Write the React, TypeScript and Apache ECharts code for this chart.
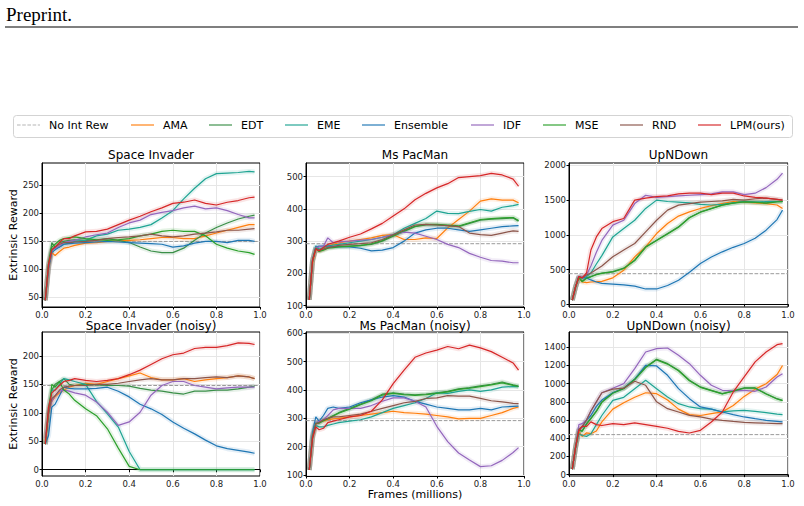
import React, { useEffect, useRef } from "react";
import * as echarts from "echarts";

// ---------- data ----------
const METHODS = ["AMA", "EDT", "EME", "Ensemble", "IDF", "MSE", "RND", "LPM(ours)"];
const REF_NAME = "No Int Rew";
const X = [0.015, 0.03, 0.045, 0.06, 0.08, 0.1, 0.125, 0.15, 0.2, 0.25, 0.3, 0.35, 0.4, 0.45, 0.5, 0.55, 0.6, 0.65, 0.7, 0.75, 0.8, 0.85, 0.9, 0.95, 0.975];

const TITLES = ["Space Invader", "Ms PacMan", "UpNDown", "Space Invader (noisy)", "Ms PacMan (noisy)", "UpNDown (noisy)"];
const REF_LEVELS = [150, 292, 440, 148, 292, 440];
const Y_MIN = [33, 96, -40, -11, 97, -15];
const Y_MAX = [290, 542, 2035, 242, 604, 1568];
const Y_TICKS = [
  [50, 100, 150, 200, 250],
  [100, 200, 300, 400, 500],
  [0, 500, 1000, 1500, 2000],
  [0, 50, 100, 150, 200],
  [100, 200, 300, 400, 500, 600],
  [0, 200, 400, 600, 800, 1000, 1200, 1400],
];

// Space Invader
const SI_AMA = [45, 100, 130, 125, 132, 138, 140, 143, 147, 148, 150, 151, 152, 153, 155, 157, 157, 155, 155, 160, 165, 170, 175, 180, 180];
const SI_EDT = [45, 110, 148, 140, 148, 150, 152, 153, 152, 153, 155, 152, 148, 140, 133, 130, 130, 138, 152, 165, 175, 183, 190, 195, 197];
const SI_EME = [45, 105, 135, 138, 140, 145, 147, 150, 152, 160, 163, 170, 172, 175, 180, 192, 205, 226, 245, 262, 271, 272, 273, 275, 274];
const SI_ENS = [45, 100, 130, 135, 140, 145, 146, 147, 148, 149, 150, 149, 148, 147, 146, 145, 140, 142, 147, 150, 150, 148, 152, 152, 150];
const SI_IDF = [45, 105, 135, 138, 142, 148, 150, 152, 158, 162, 165, 175, 183, 188, 198, 202, 205, 210, 213, 208, 210, 205, 198, 192, 192];
const SI_MSE = [45, 110, 140, 145, 152, 155, 157, 158, 155, 153, 152, 153, 155, 160, 163, 168, 170, 168, 168, 160, 145, 138, 133, 130, 127];
const SI_RND = [45, 105, 135, 140, 145, 148, 148, 149, 150, 152, 155, 157, 158, 160, 163, 160, 158, 160, 163, 165, 167, 170, 170, 172, 173];
const SI_LPM = [45, 110, 135, 140, 148, 155, 155, 160, 167, 168, 172, 180, 188, 195, 203, 210, 218, 220, 224, 218, 215, 220, 223, 228, 229];

// Ms PacMan
const MP_AMA = [118, 230, 275, 270, 275, 285, 290, 295, 300, 305, 310, 318, 320, 305, 305, 310, 308, 341, 367, 393, 424, 431, 427, 427, 419];
const MP_EDT = [118, 240, 280, 270, 275, 280, 282, 283, 285, 287, 290, 300, 315, 330, 345, 350, 350, 348, 345, 355, 365, 368, 370, 372, 362];
const MP_EME = [118, 240, 285, 275, 280, 285, 288, 290, 295, 300, 305, 312, 320, 340, 355, 370, 393, 386, 385, 392, 398, 393, 405, 410, 414];
const MP_ENS = [118, 240, 280, 285, 285, 285, 284, 283, 282, 278, 270, 272, 280, 300, 325, 335, 340, 340, 335, 330, 335, 340, 345, 347, 348];
const MP_IDF = [118, 240, 280, 282, 285, 310, 295, 298, 300, 303, 305, 312, 320, 328, 325, 315, 305, 290, 280, 262, 250, 240, 238, 233, 233];
const MP_MSE = [118, 240, 278, 268, 272, 278, 280, 282, 284, 286, 292, 302, 318, 332, 346, 352, 352, 350, 347, 357, 367, 370, 372, 373, 364];
const MP_RND = [118, 240, 278, 272, 275, 280, 283, 287, 290, 292, 295, 305, 320, 335, 350, 352, 350, 348, 345, 325, 320, 318, 325, 332, 330];
const MP_LPM = [118, 240, 275, 270, 280, 290, 295, 300, 312, 322, 338, 355, 378, 400, 428, 448, 465, 478, 497, 500, 503, 510, 505, 492, 470];

// UpNDown
const UD_AMA = [60, 250, 380, 320, 310, 320, 325, 330, 380, 490, 683, 827, 1019, 1163, 1270, 1330, 1380, 1420, 1450, 1480, 1470, 1460, 1450, 1430, 1380];
const UD_EDT = [60, 250, 390, 330, 380, 400, 430, 450, 470, 520, 635, 827, 923, 1019, 1115, 1250, 1330, 1380, 1430, 1460, 1480, 1470, 1460, 1480, 1480];
const UD_EME = [60, 250, 400, 380, 400, 450, 580, 700, 970, 1090, 1210, 1380, 1500, 1480, 1470, 1460, 1440, 1430, 1440, 1460, 1480, 1470, 1480, 1480, 1480];
const UD_ENS = [60, 250, 400, 380, 380, 350, 320, 300, 290, 280, 260, 220, 220, 270, 346, 460, 587, 680, 755, 820, 875, 950, 1067, 1220, 1356];
const UD_IDF = [60, 250, 400, 390, 420, 550, 750, 920, 1140, 1210, 1450, 1570, 1540, 1550, 1560, 1570, 1580, 1590, 1620, 1620, 1580, 1600, 1680, 1800, 1890];
const UD_MSE = [60, 250, 385, 325, 375, 395, 425, 445, 465, 515, 630, 820, 918, 1012, 1110, 1245, 1325, 1378, 1428, 1458, 1475, 1468, 1458, 1476, 1478];
const UD_RND = [60, 250, 400, 380, 420, 450, 500, 550, 683, 780, 875, 1043, 1210, 1356, 1428, 1450, 1470, 1480, 1490, 1510, 1500, 1520, 1530, 1510, 1500];
const UD_LPM = [60, 250, 400, 380, 450, 780, 970, 1090, 1190, 1235, 1500, 1530, 1550, 1560, 1590, 1600, 1600, 1580, 1600, 1600, 1560, 1540, 1530, 1510, 1500];

// Space Invader (noisy)
const SIN_AMA = [50, 100, 120, 128, 135, 140, 145, 148, 152, 150, 155, 160, 165, 170, 162, 158, 158, 160, 155, 158, 160, 162, 165, 163, 160];
const SIN_EDT = [45, 100, 140, 150, 155, 160, 150, 148, 150, 149, 148, 148, 147, 143, 140, 138, 135, 133, 138, 138, 140, 140, 142, 145, 147];
const SIN_EME = [45, 110, 140, 140, 150, 160, 158, 155, 150, 120, 98, 75, 32, 0, 0, 0, 0, 0, 0, 0, 0, 0, 0, 0, 0];
const SIN_ENS = [45, 60, 110, 115, 130, 145, 143, 142, 142, 143, 145, 138, 128, 115, 107, 97, 84, 73, 63, 52, 42, 37, 34, 31, 29];
const SIN_IDF = [55, 100, 120, 130, 138, 140, 138, 135, 131, 119, 101, 78, 84, 101, 131, 148, 155, 155, 148, 145, 142, 144, 145, 145, 145];
const SIN_MSE = [45, 100, 150, 145, 155, 140, 133, 122, 107, 95, 72, 38, 6, 0, 0, 0, 0, 0, 0, 0, 0, 0, 0, 0, 0];
const SIN_RND = [45, 100, 125, 130, 140, 145, 147, 148, 148, 150, 150, 152, 155, 158, 160, 158, 158, 160, 160, 162, 163, 162, 165, 163, 160];
const SIN_LPM = [45, 110, 135, 140, 148, 155, 157, 160, 157, 155, 157, 160, 167, 175, 185, 195, 202, 205, 213, 215, 215, 218, 223, 222, 220];

// Ms PacMan (noisy)
const MPN_AMA = [118, 230, 280, 290, 290, 295, 298, 300, 305, 310, 315, 320, 325, 320, 318, 315, 310, 305, 298, 300, 300, 310, 320, 335, 340];
const MPN_EDT = [118, 240, 285, 285, 295, 300, 310, 320, 335, 350, 365, 385, 390, 385, 383, 385, 390, 395, 404, 408, 414, 420, 428, 418, 414];
const MPN_EME = [118, 230, 275, 270, 270, 275, 280, 285, 290, 295, 305, 320, 335, 345, 355, 370, 390, 388, 395, 400, 395, 400, 410, 412, 412];
const MPN_ENS = [118, 250, 305, 290, 310, 335, 340, 335, 340, 355, 365, 375, 380, 375, 360, 350, 340, 335, 330, 330, 335, 330, 340, 342, 343];
const MPN_IDF = [118, 240, 285, 290, 295, 310, 330, 335, 335, 335, 345, 360, 372, 372, 360, 340, 272, 218, 178, 153, 130, 133, 152, 180, 197];
const MPN_MSE = [118, 238, 282, 283, 292, 298, 308, 318, 332, 348, 362, 382, 388, 383, 381, 383, 388, 393, 402, 406, 412, 418, 425, 416, 412];
const MPN_RND = [118, 235, 280, 285, 295, 300, 305, 305, 310, 315, 325, 335, 345, 355, 360, 370, 372, 380, 378, 378, 370, 362, 358, 353, 352];
const MPN_LPM = [118, 230, 270, 260, 265, 285, 290, 295, 305, 310, 325, 365, 422, 470, 515, 530, 540, 553, 545, 558, 548, 535, 515, 495, 470];

// UpNDown (noisy)
const UDN_AMA = [60, 300, 470, 420, 460, 450, 480, 580, 720, 790, 850, 900, 890, 820, 720, 660, 650, 670, 690, 760, 860, 940, 1000, 1100, 1200];
const UDN_EDT = [60, 300, 500, 480, 560, 620, 700, 800, 900, 950, 1050, 1183, 1268, 1220, 1147, 1037, 964, 927, 890, 920, 953, 953, 890, 835, 817];
const UDN_EME = [60, 300, 450, 430, 420, 450, 550, 650, 817, 850, 945, 1037, 945, 854, 780, 744, 725, 720, 689, 700, 707, 695, 681, 665, 660];
const UDN_ENS = [60, 300, 500, 520, 600, 650, 750, 820, 900, 950, 1050, 1202, 1195, 1092, 945, 835, 744, 720, 689, 660, 634, 615, 597, 585, 579];
const UDN_IDF = [60, 300, 550, 560, 600, 700, 800, 900, 950, 1000, 1165, 1348, 1385, 1392, 1312, 1220, 1092, 982, 927, 920, 927, 916, 964, 1074, 1110];
const UDN_MSE = [60, 300, 495, 475, 555, 615, 695, 795, 895, 945, 1045, 1178, 1262, 1215, 1142, 1032, 960, 923, 887, 917, 950, 950, 887, 832, 814];
const UDN_RND = [60, 300, 500, 530, 600, 700, 800, 900, 940, 950, 1026, 982, 800, 725, 689, 652, 634, 610, 597, 585, 575, 570, 565, 560, 560];
const UDN_LPM = [60, 300, 480, 530, 530, 580, 550, 540, 560, 550, 570, 550, 530, 510, 476, 458, 487, 579, 689, 909, 1074, 1239, 1348, 1429, 1440];

const PANEL_SERIES = [
  [SI_AMA, SI_EDT, SI_EME, SI_ENS, SI_IDF, SI_MSE, SI_RND, SI_LPM],
  [MP_AMA, MP_EDT, MP_EME, MP_ENS, MP_IDF, MP_MSE, MP_RND, MP_LPM],
  [UD_AMA, UD_EDT, UD_EME, UD_ENS, UD_IDF, UD_MSE, UD_RND, UD_LPM],
  [SIN_AMA, SIN_EDT, SIN_EME, SIN_ENS, SIN_IDF, SIN_MSE, SIN_RND, SIN_LPM],
  [MPN_AMA, MPN_EDT, MPN_EME, MPN_ENS, MPN_IDF, MPN_MSE, MPN_RND, MPN_LPM],
  [UDN_AMA, UDN_EDT, UDN_EME, UDN_ENS, UDN_IDF, UDN_MSE, UDN_RND, UDN_LPM],
];

// ---------- layout & style ----------
const COLORS = ["#ff7f0e", "#3a8f48", "#1fa493", "#1f77b4", "#9467bd", "#2ca02c", "#8c564b", "#d62728"];
const REF_COLOR = "#9a9a9a";
const GRID_POS = [
  { left: 42, top: 163, width: 218, height: 144 },
  { left: 306, top: 163, width: 218, height: 144 },
  { left: 569, top: 163, width: 219, height: 144 },
  { left: 42, top: 332, width: 218, height: 144 },
  { left: 306, top: 332, width: 218, height: 144 },
  { left: 569, top: 332, width: 219, height: 144 },
];
const LEGEND_X = [17, 131, 209, 285, 362, 471, 543, 620, 698];
const FONT = "DejaVu Sans";
const ICON_SOLID = "path://M0,0h23v1.6h-23z";
const ICON_DASH = "path://M0,0h3.6v1.2h-3.6z M5.2,0h3.6v1.2h-3.6z M10.4,0h3.6v1.2h-3.6z M15.6,0h3.6v1.2h-3.6z M20.8,0h2.2v1.2h-2.2z";

export default function App() {
  const ref = useRef<HTMLDivElement>(null);
  useEffect(() => {
    if (!ref.current) return;
    const chart = echarts.init(ref.current, null, { renderer: "svg" });

    const grid = GRID_POS.map((g) => ({
      ...g,
      show: true,
      borderColor: "#000",
      borderWidth: 1,
      backgroundColor: "#fff",
    }));

    const xAxis = GRID_POS.map((_, p) => ({
      type: "value",
      gridIndex: p,
      min: 0,
      max: 1,
      interval: 0.2,
      axisLine: { show: true, lineStyle: { color: "#000", width: 1 } },
      axisTick: { show: true, length: 2.5, lineStyle: { color: "#000" } },
      axisLabel: {
        show: true,
        margin: 3,
        fontSize: 8.5,
        fontFamily: FONT,
        color: "#222",
        formatter: (v: number) => v.toFixed(1),
        showMinLabel: true,
        showMaxLabel: true,
      },
      splitLine: { show: true, lineStyle: { color: "#e6e6e6", width: 1 } },
      name: p === 4 ? "Frames (millions)" : "",
      nameLocation: "middle",
      nameGap: 11,
      nameTextStyle: { fontSize: 11, fontFamily: FONT, color: "#000", verticalAlign: "top" },
    }));

    const yAxis = GRID_POS.map((_, p) => ({
      type: "value",
      gridIndex: p,
      min: Y_MIN[p],
      max: Y_MAX[p],
      axisLine: { show: true, lineStyle: { color: "#000", width: 1 } },
      axisTick: { show: true, length: 2.5, customValues: Y_TICKS[p], lineStyle: { color: "#000" } },
      axisLabel: {
        show: true,
        margin: 3,
        fontSize: 8.5,
        fontFamily: FONT,
        color: "#222",
        customValues: Y_TICKS[p],
        formatter: (v: number) => String(v),
      },
      splitLine: { show: true, lineStyle: { color: "#e6e6e6", width: 1 } },
      name: p === 0 || p === 3 ? "Extrinsic Reward" : "",
      nameLocation: "middle",
      nameGap: 22,
      nameTextStyle: { fontSize: 11, fontFamily: FONT, color: "#000" },
    }));

    const series: any[] = [];
    PANEL_SERIES.forEach((panel, p) => {
      series.push({
        name: REF_NAME,
        type: "line",
        xAxisIndex: p,
        yAxisIndex: p,
        data: [
          [0, REF_LEVELS[p]],
          [1, REF_LEVELS[p]],
        ],
        symbol: "none",
        silent: true,
        itemStyle: { color: REF_COLOR },
        lineStyle: { color: REF_COLOR, width: 1, type: [3.7, 1.6] },
        z: 2,
      });
      panel.forEach((ys, m) => {
        const data = X.map((x, i) => [x, ys[i]]);
        series.push({
          name: METHODS[m] + " band",
          type: "line",
          xAxisIndex: p,
          yAxisIndex: p,
          data,
          symbol: "none",
          silent: true,
          itemStyle: { color: COLORS[m] },
          lineStyle: { color: COLORS[m], width: 5, opacity: 0.12 },
          z: 1,
        });
        series.push({
          name: METHODS[m],
          type: "line",
          xAxisIndex: p,
          yAxisIndex: p,
          data,
          symbol: "none",
          silent: true,
          itemStyle: { color: COLORS[m] },
          lineStyle: { color: COLORS[m], width: 1.2 },
          z: 3,
        });
      });
    });

    const legendNames = [REF_NAME, ...METHODS];
    const legend = legendNames.map((n, i) => ({
      data: [{ name: n, icon: i === 0 ? ICON_DASH : ICON_SOLID }],
      left: LEGEND_X[i],
      top: 119.5,
      padding: 0,
      itemGap: 0,
      itemWidth: 23,
      itemHeight: 12,
      selectedMode: false,
      itemStyle: { opacity: 0.72 },
      textStyle: { fontSize: 11, fontFamily: FONT, color: "#000", padding: [0, 0, 0, 4] },
    }));

    const graphic: any[] = [
      {
        type: "text",
        x: 6,
        y: 14,
        style: { text: "Preprint.", font: '19px "Liberation Serif"', fill: "#000", textVerticalAlign: "middle" },
      },
      {
        type: "line",
        shape: { x1: 5, y1: 27, x2: 798, y2: 27 },
        style: { stroke: "#000", lineWidth: 1.2 },
      },
      {
        type: "rect",
        z: 0,
        shape: { x: 13.5, y: 115.5, width: 779, height: 22, r: 3 },
        style: { fill: "#fff", stroke: "#d3d3d3", lineWidth: 1 },
      },
      ...GRID_POS.map((g, p) => ({
        type: "text",
        x: g.left + g.width / 2,
        y: g.top - (p < 3 ? 8 : 6.5),
        style: {
          text: TITLES[p],
          font: `12px "${FONT}"`,
          fill: "#000",
          textAlign: "center",
          textVerticalAlign: "middle",
        },
      })),
    ];

    chart.setOption({
      animation: false,
      backgroundColor: "#fff",
      grid,
      xAxis,
      yAxis,
      series,
      legend,
      graphic,
    });
    return () => chart.dispose();
  }, []);
  return <div ref={ref} style={{ position: "absolute", left: 0, top: 0, width: 804, height: 506 }} />;
}
